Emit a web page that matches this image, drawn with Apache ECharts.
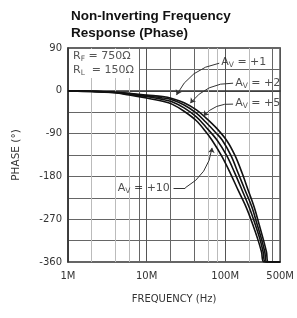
<!DOCTYPE html>
<html><head><meta charset="utf-8">
<script src="https://cdn.jsdelivr.net/npm/echarts@6/dist/echarts.min.js"></script>
<style>html,body{margin:0;padding:0;background:#fff}#c{width:297px;height:318px}</style>
</head><body><div id="c"></div>
<script>
// ---- data (frequency in MHz, phase in degrees) ----
const titleText = 'Non-Inverting Frequency\nResponse (Phase)';
const xAxisName = 'FREQUENCY (Hz)';
const yAxisName = 'PHASE (°)';
const xTickLabels = { 1: '1M', 10: '10M', 100: '100M', 500: '500M' };
const yTickValues = [90, 0, -90, -180, -270, -360];
const minorGridDark = [8, 20, 40, 400];
const minorGridLight = [2, 4, 6, 60, 80, 200];

const av1Freq  = [1, 2, 4, 6, 10, 16, 21, 30, 43, 56, 77, 106, 134, 164, 196, 233, 269, 307, 335, 355, 500];
const av1Phase = [0, -1, -3, -5, -9, -12, -16, -25, -40, -56, -78, -106, -137, -173, -209, -244, -280, -314, -339, -360, -360];
const av2Freq  = [1, 2, 4, 6, 10, 16, 21, 30, 43, 56, 74, 92, 119, 146, 179, 218, 254, 292, 319, 340, 500];
const av2Phase = [0, -1, -3, -6, -11, -15, -19, -30, -47, -65, -86, -104, -137, -173, -209, -244, -280, -314, -339, -360, -360];
const av5Freq  = [1, 2, 4, 6, 10, 16, 21, 30, 43, 56, 79, 105, 130, 164, 203, 240, 279, 304, 326, 500];
const av5Phase = [0, -1, -4, -7, -12, -18, -23, -36, -55, -75, -104, -137, -170, -209, -246, -280, -314, -339, -360, -360];
const av10Freq  = [1, 2, 4, 6, 10, 16, 21, 30, 43, 56, 68, 90, 116, 146, 184, 223, 262, 290, 312, 500];
const av10Phase = [0, -2, -4, -9, -15, -22, -28, -43, -63, -85, -104, -137, -173, -209, -244, -280, -314, -339, -360, -360];

const avGains = ['+1', '+2', '+5', '+10'];
const avLabelFreq  = [89, 134, 134, 4.3];
const avLabelPhase = [61, 17, -26, -204];
const leaderFromFreq  = [84, 126, 126, 31];
const leaderFromPhase = [58, 16, -28, -204];
const leaderToFreq    = [24, 36, 53, 68];
const leaderToPhase   = [-9, -26, -53, -120];
const tailFromFreq = [22], tailFromPhase = [-204];

const rfText = ['F', '750Ω'];
const rlText = ['L', '150Ω'];

// ---- build ----
const zip = (a, b) => a.map((v, i) => [v, b[i]]);
const FONT = 'DejaVu Sans';
const curveStyle = { color: '#111', width: 1.6 };
function curve(name, f, p) {
  return { name, type: 'line', data: zip(f, p), showSymbol: false, symbol: 'none',
    smooth: 0.35, lineStyle: curveStyle, z: 5, silent: true };
}
const subRich = {
  a: { fontFamily: FONT, fontSize: 11, color: '#222', lineHeight: 14, verticalAlign: 'middle' },
  s: { fontFamily: FONT, fontSize: 7.5, color: '#222', lineHeight: 8, verticalAlign: 'bottom' }
};
const leaderData = leaderFromFreq.map((f, i) => ({
  coords: [[f, leaderFromPhase[i]], [leaderToFreq[i], leaderToPhase[i]]]
}));
const chart = echarts.init(document.getElementById('c'), null, { renderer: 'canvas' });
chart.setOption({
  backgroundColor: '#fff',
  animation: false,
  title: { text: titleText, left: 66, top: 3,
    textStyle: { fontFamily: 'Liberation Sans', fontWeight: 'bold', fontSize: 13.5, color: '#111', lineHeight: 17 } },
  grid: { left: 68, top: 48, width: 213, height: 214, show: true, borderColor: '#333', borderWidth: 1.5, backgroundColor: '#fff' },
  xAxis: {
    type: 'log', logBase: 10, min: 1, max: 500,
    name: xAxisName, nameLocation: 'middle', nameGap: 32,
    nameTextStyle: { fontFamily: FONT, fontSize: 10, color: '#333' },
    axisLine: { show: true, lineStyle: { color: '#333', width: 1.5 } },
    axisTick: { show: false },
    axisLabel: { margin: 9, fontFamily: FONT, fontSize: 10, color: '#333', showMaxLabel: true, showMinLabel: true,
      formatter: v => xTickLabels[Math.round(v)] || '' },
    splitLine: { show: true, lineStyle: { color: '#555', width: 1 } }
  },
  yAxis: {
    type: 'value', min: -360, max: 90, interval: 45,
    name: yAxisName, nameLocation: 'middle', nameGap: 46,
    nameTextStyle: { fontFamily: FONT, fontSize: 10.5, color: '#333' },
    axisLine: { show: true, lineStyle: { color: '#333', width: 1.5 } },
    axisTick: { show: false },
    axisLabel: { margin: 6, fontFamily: FONT, fontSize: 10, color: '#333',
      formatter: v => (yTickValues.indexOf(v) >= 0 ? String(v) : '') },
    splitLine: { show: true, lineStyle: { color: '#666', width: 1 } }
  },
  graphic: [
    { type: 'rect', left: 69, top: 49, z: 10, shape: { width: 70, height: 29 }, style: { fill: '#fff' } },
    { type: 'text', left: 73, top: 51, z: 11, style: {
      text: '{r|R}{s|' + rfText[0] + '}{r| = ' + rfText[1] + '}\n{r|R}{s|' + rlText[0] + '}{r|  = ' + rlText[1] + '}',
      rich: {
        r: { fontFamily: FONT, fontSize: 11, fill: '#555', lineHeight: 14, verticalAlign: 'middle' },
        s: { fontFamily: FONT, fontSize: 7.5, fill: '#555', lineHeight: 8, verticalAlign: 'bottom' }
      } } }
  ],
  series: [
    { type: 'line', data: [[1, 0]], symbol: 'none', lineStyle: { opacity: 0 }, z: 1, silent: true,
      markLine: { silent: true, symbol: 'none', label: { show: false }, animation: false,
        data: minorGridLight.map(v => ({ xAxis: v, lineStyle: { color: '#bbb', width: 1, type: 'solid' } }))
          .concat(minorGridDark.map(v => ({ xAxis: v, lineStyle: { color: '#666', width: 1, type: 'solid' } }))) } },
    curve('+1', av1Freq, av1Phase),
    curve('+2', av2Freq, av2Phase),
    curve('+5', av5Freq, av5Phase),
    curve('+10', av10Freq, av10Phase),
    { type: 'lines', coordinateSystem: 'cartesian2d', z: 6, silent: true,
      symbol: ['none', 'arrow'], symbolSize: 5,
      lineStyle: { color: '#333', width: 1, curveness: -0.25, opacity: 1 },
      data: leaderData },
    { type: 'lines', coordinateSystem: 'cartesian2d', z: 6, silent: true, symbol: 'none',
      lineStyle: { color: '#333', width: 1, curveness: 0, opacity: 1 },
      data: tailFromFreq.map((f, i) => ({ coords: [[f, tailFromPhase[i]], [leaderFromFreq[3], leaderFromPhase[3]]] })) },
    { type: 'scatter', data: zip(avLabelFreq, avLabelPhase), symbolSize: 0, z: 7, silent: true,
      label: { show: true, position: 'right', distance: 0,
        formatter: p => '{a|A}{s|V}{a| = ' + avGains[p.dataIndex] + '}', rich: subRich } }
  ]
});
</script></body></html>
